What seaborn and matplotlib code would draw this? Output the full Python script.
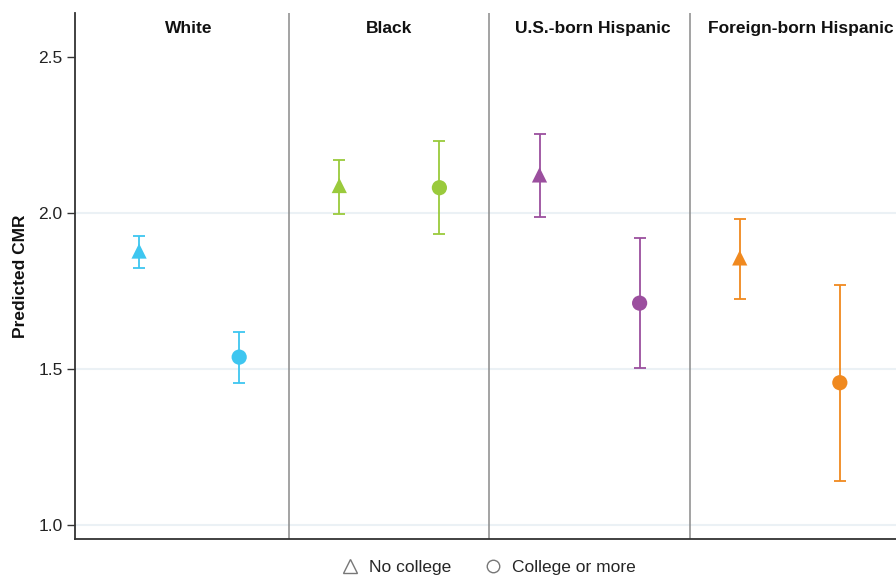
import matplotlib
matplotlib.use("Agg")
import matplotlib.pyplot as plt
import seaborn as sns
import pandas as pd
from matplotlib.lines import Line2D

groups = ["White", "Black", "U.S.-born Hispanic", "Foreign-born Hispanic"]
education = ["No college", "College or more"]
colors = ["#3EC6F0", "#9ACA3C", "#9B4F9E", "#F0891F"]

# estimates [no college, college or more] per group
est_nc = [1.878, 2.088, 2.122, 1.856]
low_nc = [1.823, 1.996, 1.988, 1.724]
up_nc = [1.926, 2.170, 2.252, 1.980]

est_c = [1.538, 2.081, 1.711, 1.456]
low_c = [1.456, 1.932, 1.502, 1.141]
up_c = [1.620, 2.232, 1.921, 1.769]

yticks = [1.0, 1.5, 2.0, 2.5]

rows = []
for i, g in enumerate(groups):
    rows.append(dict(group=g, edu=education[0], pos=2 * i, est=est_nc[i], lo=low_nc[i], hi=up_nc[i]))
    rows.append(dict(group=g, edu=education[1], pos=2 * i + 1, est=est_c[i], lo=low_c[i], hi=up_c[i]))
df = pd.DataFrame(rows)

sns.set_theme(style="white")
plt.rcParams["font.family"] = ["Liberation Sans", "DejaVu Sans"]

fig = plt.figure(figsize=(8.96, 5.78), dpi=100)
ax = fig.add_axes([75 / 896, 1 - 539 / 578, 1 - 75 / 896 + 0.001, (539 - 13) / 578])

# light gridlines
for yv in [1.0, 1.5, 2.0]:
    ax.axhline(yv, color="#EBF1F5", lw=1.5, zorder=0)

pal = {g: c for g, c in zip(groups, colors)}
for _, r in df.iterrows():
    ax.errorbar(r["pos"], r["est"], yerr=[[r["est"] - r["lo"]], [r["hi"] - r["est"]]],
                fmt="none", ecolor=pal[r["group"]], elinewidth=1.3, capsize=4.2, capthick=1.3, zorder=2)

sns.scatterplot(data=df, x="pos", y="est", hue="group", style="edu", palette=pal,
                markers={"No college": "^", "College or more": "o"}, s=120,
                edgecolor="none", legend=False, ax=ax, zorder=3)

# panel separators
for b in [1.5, 3.5, 5.5]:
    ax.axvline(b, color="#8A8A8A", lw=1.1, zorder=1)

# panel titles (last panel extends past the right edge, so its centre sits further right)
title_offsets = [0.5, 0.5, 0.53, 0.61]
for i, g in enumerate(groups):
    ax.text(2 * i + title_offsets[i], 2.59, g, ha="center", va="center", fontsize=12.5,
            fontweight="bold", color="#111111")

ax.set_xlim(-0.64, 7.57)
ax.set_ylim(0.955, 2.641)
ax.set_yticks(yticks)
ax.set_yticklabels([f"{v:.1f}" for v in yticks], fontsize=12.5, color="#222222")
ax.set_xticks([])
ax.set_xlabel("")
ax.set_ylabel("Predicted CMR", fontsize=12.5, fontweight="bold", color="#111111", labelpad=7)
ax.tick_params(axis="y", length=6, width=1, color="#333333", left=True, pad=3)

for s in ["top", "right"]:
    ax.spines[s].set_visible(False)
for s in ["left", "bottom"]:
    ax.spines[s].set_color("#333333")
    ax.spines[s].set_linewidth(1.3)

handles = [
    Line2D([], [], marker="^", ls="none", markerfacecolor="none", markeredgecolor="#777777", markersize=10, label="No college"),
    Line2D([], [], marker="o", ls="none", markerfacecolor="none", markeredgecolor="#777777", markersize=9, label="College or more"),
]
fig.legend(handles=handles, loc="center", bbox_to_anchor=(488 / 896, 1 - 567 / 578), ncol=2, frameon=False,
           fontsize=12.5, handletextpad=0.5, columnspacing=1.8, handlelength=1.2)

fig.savefig("out.png", dpi=100)
